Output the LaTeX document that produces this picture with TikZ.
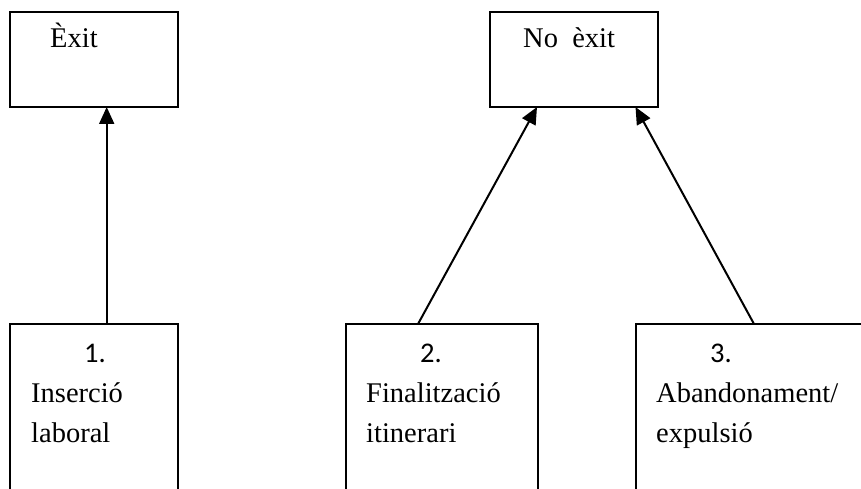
\documentclass[tikz,border=0pt]{standalone}
\usepackage{fontspec}
\setmainfont{Liberation Serif}
\newfontfamily\numfont{Carlito}
\usetikzlibrary{arrows.meta}
\begin{document}
\begin{tikzpicture}[x=1pt,y=-1pt,
  box/.style={draw,line width=2pt,rectangle,outer sep=0pt,inner sep=0pt,anchor=north west},
  lbl/.style={inner sep=0pt,anchor=base west,font=\fontsize{28.5}{40}\selectfont},
  num/.style={inner sep=0pt,anchor=base west,font=\numfont\fontsize{28.5}{40}\selectfont},
  arr/.style={line width=2pt,-{Triangle[length=17pt,width=15pt]}}]
\useasboundingbox (0,0) rectangle (861,489);
\clip (0,0) rectangle (861,489);
% top boxes
\node[box,minimum width=168,minimum height=95] (exit) at (10,12) {};
\node[box,minimum width=168,minimum height=95] (noexit) at (490,12) {};
\node[lbl] (exitt) at (50,48) {Èxit};
\node[lbl] (noexitt) at (523,48) {No~ èxit};
% bottom boxes (open at the bottom edge)
\node[box,minimum width=168,minimum height=200] (b1) at (10,324) {};
\node[box,minimum width=192,minimum height=200] (b2) at (346,324) {};
\node[box,minimum width=260,minimum height=200] (b3) at (636,324) {};
% texts
\node[num] (n1) at (84,362) {1.};
\node[lbl] (t1a) at (31,402) {Inserció};
\node[lbl] (t1b) at (31,442) {laboral};
\node[num] (n2) at (420,362) {2.};
\node[lbl] (t2a) at (366,402) {Finalització};
\node[lbl] (t2b) at (366,442) {itinerari};
\node[num] (n3) at (710,362) {3.};
\node[lbl] (t3a) at (656,402) {Abandonament/};
\node[lbl] (t3b) at (656,442) {expulsió};
% connectors
\draw[arr] ([xshift=96.7pt]b1.north west) -- ([xshift=96.7pt]exit.south west);
\draw[arr] ([xshift=72pt]b2.north west) -- ([xshift=47pt]noexit.south west);
\draw[arr] ([xshift=118pt]b3.north west) -- ([xshift=145.5pt]noexit.south west);
\end{tikzpicture}
\end{document}
